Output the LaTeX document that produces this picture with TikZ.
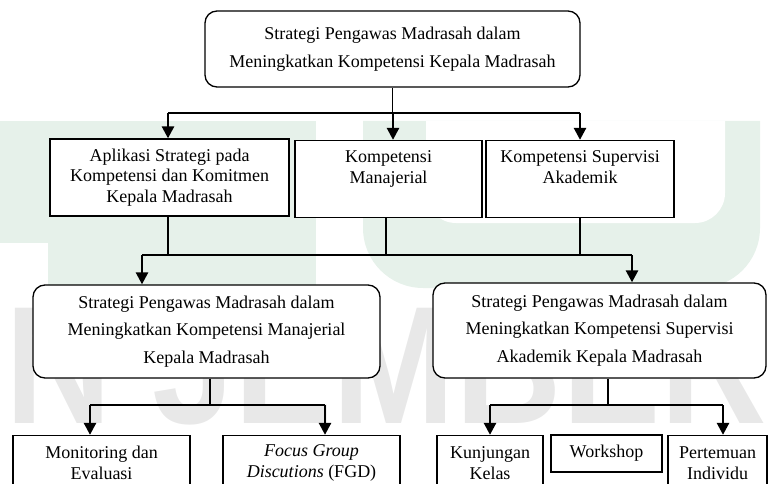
\documentclass[tikz,border=0pt]{standalone}
\usepackage{fontspec}
\setmainfont{Liberation Serif}
\newfontfamily\wmfont{Liberation Sans}
\usetikzlibrary{arrows.meta}
\definecolor{wmgreen}{HTML}{E6F1EA}
\definecolor{wmgray}{HTML}{E8E8E8}
\begin{document}
\begin{tikzpicture}[x=1pt,y=-1pt,
  box/.style={draw, line width=1.3pt, fill=white, align=center, inner sep=0pt,
    font=\fontsize{18}{20.5}\selectfont},
  rbox/.style={box, rounded corners=12pt, font=\fontsize{18}{27.5}\selectfont},
  ln/.style={line width=1.3pt},
  lnb/.style={line width=1.8pt},
  arr/.style={line width=2.6pt, -{Triangle[width=12pt,length=12pt]}}]
\useasboundingbox (0,0) rectangle (768,484);
\clip (0,0) rectangle (768,484);
% watermark
\fill[wmgreen] (0,121) rectangle (316,243);
\fill[wmgreen] (48,121) rectangle (316,288);
\fill[wmgreen] (363,121) [rounded corners=60pt] -- (363,288) -- (760,288) [sharp corners] -- (760,121) -- cycle;
\fill[white] (426,121) [rounded corners=30pt] -- (426,223) -- (725,223) [sharp corners] -- (725,121) -- cycle;
\node[anchor=base west, inner sep=0pt, text=wmgray, xscale=0.88,
  font=\wmfont\bfseries\fontsize{167.6}{170}\selectfont] (wm) at (5,423) {N JEMBER};
% boxes
\node[rbox, minimum width=375pt, minimum height=76pt, font=\fontsize{18}{28}\selectfont] (top) at (392.5,49)
  {Strategi Pengawas Madrasah dalam\\Meningkatkan Kompetensi Kepala Madrasah};
\node[box, minimum width=239pt, minimum height=77pt] (b1) at (169.5,177.5)
  {Aplikasi Strategi pada\\Kompetensi dan Komitmen\\Kepala Madrasah};
\node[box, minimum width=187pt, minimum height=77pt] (b2) at (388.5,179)
  {Kompetensi\\Manajerial\\\phantom{Kepala Madrasah}};
\node[box, minimum width=188pt, minimum height=77pt] (b3) at (580,179)
  {Kompetensi Supervisi\\Akademik\\\phantom{Kepala}};
\node[rbox, minimum width=347pt, minimum height=93pt] (m1) at (206.5,331.5)
  {Strategi Pengawas Madrasah dalam\\Meningkatkan Kompetensi Manajerial\\Kepala Madrasah};
\node[rbox, minimum width=333pt, minimum height=95pt] (m2) at (599.5,330.5)
  {Strategi Pengawas Madrasah dalam\\Meningkatkan Kompetensi Supervisi\\Akademik Kepala Madrasah};
\node[box, minimum width=177pt, minimum height=55pt] (l1) at (101.5,463)
  {Monitoring dan\\Evaluasi};
\node[box, minimum width=177pt, minimum height=55pt] (l2) at (311.5,463)
  {\textit{Focus Group}\\\textit{Discutions} (FGD)};
\node[box, minimum width=106pt, minimum height=55pt] (r1) at (490,463)
  {Kunjungan\\Kelas};
\node[box, minimum width=111pt, minimum height=37pt] (r2) at (606.5,453.5)
  {Workshop};
\node[box, minimum width=99pt, minimum height=55pt] (r3) at (717.5,463)
  {Pertemuan\\Individu};
% level 1 connectors
\coordinate (h1L) at (168,113);
\coordinate (h1M) at (393,113);
\coordinate (h1R) at (580,113);
\draw[lnb] (top.south) -- (top.south |- h1L);
\draw[lnb] (h1L) -- (h1R);
\draw[arr] (h1L) -- (h1L |- b1.north);
\draw[arr] (h1M) -- (h1M |- b2.north);
\draw[arr] (h1R) -- (h1R |- b3.north);
% level 2 connectors
\coordinate (h2L) at (142,255);
\coordinate (h2R) at (632,255);
\coordinate (v1) at (168,255);
\coordinate (v2) at (386,255);
\coordinate (v3) at (580,255);
\draw[ln] (v1 |- b1.south) -- (v1);
\draw[ln] (v2 |- b2.south) -- (v2);
\draw[ln] (v3 |- b3.south) -- (v3);
\draw[ln] (h2L) -- (h2R);
\draw[arr] (h2L) -- (h2L |- m1.north);
\draw[arr] (h2R) -- (h2R |- m2.north);
% level 3 connectors (left)
\coordinate (h3L) at (90,405);
\coordinate (h3M) at (210,405);
\coordinate (h3R) at (325,405);
\draw[ln] (h3M |- m1.south) -- (h3M);
\draw[ln] (h3L) -- (h3R);
\draw[arr] (h3L) -- (h3L |- l1.north);
\draw[arr] (h3R) -- (h3R |- l2.north);
% level 3 connectors (right)
\coordinate (h4L) at (490,405);
\coordinate (h4M) at (608,405);
\coordinate (h4R) at (723,405);
\draw[ln] (h4M |- m2.south) -- (h4M);
\draw[ln] (h4L) -- (h4R);
\draw[arr] (h4L) -- (h4L |- r1.north);
\draw[arr] (h4R) -- (h4R |- r3.north);
\end{tikzpicture}
\end{document}
